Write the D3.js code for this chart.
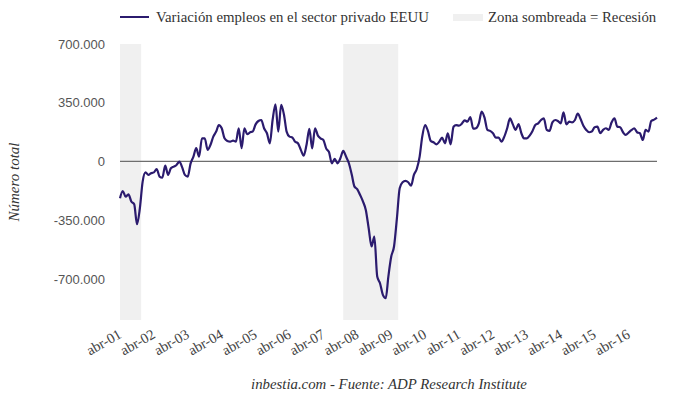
<!DOCTYPE html>
<html>
<head>
<meta charset="utf-8">
<script src="https://cdn.jsdelivr.net/npm/d3@7"></script>
<style>
  body { margin: 0; background: #fff; }
  svg { display: block; }
</style>
</head>
<body>
<svg id="chart" width="680" height="399"></svg>
<script>
// monthly series, thousands of jobs, starting abr-2001
const startMonth = new Date(2001, 3, 1);
const empleos = [
  -219, -176, -210, -196, -239, -255, -374, -279, -120, -65,
  -80, -70, -65, -45, -90, -97, -25, -80, -41, -31,
  -21, -1, -37, -80, -90, -13, 29, 79, 29, 138,
  138, 69, 98, 148, 178, 217, 198, 138, 122, 118,
  124, 118, 198, 79, 198, 162, 174, 178, 221, 241,
  247, 198, 168, 108, 247, 341, 178, 337, 277, 178,
  148, 143, 118, 108, 69, 35, 98, 194, 78, 198,
  154, 138, 128, 78, 55, -11, 15, -11, 19, 63,
  29, -11, -80, -150, -166, -200, -239, -289, -398, -507,
  -448, -686, -726, -795, -815, -686, -567, -507, -339, -160,
  -124, -116, -124, -144, -80, -45, 29, 148, 217, 182,
  122, 114, 102, 118, 142, 108, 168, 102, 207, 217,
  213, 225, 245, 237, 265, 195, 198, 227, 297, 261,
  188, 182, 168, 142, 142, 118, 148, 198, 257, 221,
  188, 223, 168, 138, 138, 154, 182, 217, 227, 247,
  257, 188, 182, 233, 247, 241, 227, 293, 221, 237,
  233, 247, 285, 253, 213, 188, 174, 178, 204, 207,
  168, 188, 198, 188, 233, 257, 207, 204, 174, 158,
  172, 186, 198, 174, 168, 128, 188, 178, 241, 249,
  261
];

// recession periods (start, end)
const recesiones = [
  [new Date(2001, 3, 1), new Date(2001, 10, 15)],
  [new Date(2007, 10, 1), new Date(2009, 5, 15)]
];

const yTicks = [700, 350, 0, -350, -700];
const xTickYears = d3.range(2001, 2017);

const serieLabel = "Variación empleos en el sector privado EEUU";
const zonaLabel = "Zona sombreada = Recesión";
const yTitle = "Número total";
const fuente = "inbestia.com - Fuente: ADP Research Institute";

const data = empleos.map((v, i) => ({ date: d3.timeMonth.offset(startMonth, i), value: v }));

const es = d3.formatLocale({ decimal: ",", thousands: ".", grouping: [3], currency: ["", "€"], minus: "-" });
const esTime = d3.timeFormatLocale({
  dateTime: "%A, %e de %B de %Y, %X", date: "%d/%m/%Y", time: "%H:%M:%S",
  periods: ["AM", "PM"],
  days: ["domingo", "lunes", "martes", "miércoles", "jueves", "viernes", "sábado"],
  shortDays: ["dom", "lun", "mar", "mié", "jue", "vie", "sáb"],
  months: ["enero", "febrero", "marzo", "abril", "mayo", "junio", "julio", "agosto", "septiembre", "octubre", "noviembre", "diciembre"],
  shortMonths: ["ene", "feb", "mar", "abr", "may", "jun", "jul", "ago", "sep", "oct", "nov", "dic"]
});

const svg = d3.select("#chart");
const serif = "'Liberation Serif', 'Times New Roman', serif";
const sans = "'Liberation Sans', Arial, sans-serif";

const plotL = 120, plotR = 657, plotT = 44, plotB = 320;

const x = d3.scaleTime()
  .domain([startMonth, d3.timeMonth.offset(startMonth, empleos.length - 1)])
  .range([plotL, plotR]);

const y = d3.scaleLinear()
  .domain([-945, 700])
  .range([plotB, plotT]);

// recession bands
svg.append("g")
  .selectAll("rect")
  .data(recesiones)
  .join("rect")
  .attr("x", d => x(d[0]))
  .attr("width", d => x(d[1]) - x(d[0]))
  .attr("y", plotT)
  .attr("height", plotB - plotT)
  .attr("fill", "#f0f0f0");

// zero line
svg.append("line")
  .attr("x1", plotL).attr("x2", plotR)
  .attr("y1", y(0)).attr("y2", y(0))
  .attr("stroke", "#6e6e6e")
  .attr("stroke-width", 1.3);

// y axis
const yAxis = svg.append("g")
  .attr("transform", `translate(${plotL - 15},0)`)
  .call(d3.axisLeft(y).tickValues(yTicks).tickSize(0).tickPadding(0)
    .tickFormat(d => es.format(",.0f")(d * 1000)));
yAxis.select(".domain").remove();
yAxis.selectAll("text")
  .attr("font-family", sans)
  .attr("font-size", 13)
  .attr("fill", "#555");

// x axis
const xAxis = svg.append("g")
  .attr("transform", `translate(0,${plotB + 12})`)
  .call(d3.axisBottom(x)
    .tickValues(xTickYears.map(yr => new Date(yr, 3, 1)))
    .tickSize(0)
    .tickFormat(esTime.format("%b-%y")));
xAxis.select(".domain").remove();
xAxis.selectAll("text")
  .attr("font-family", serif)
  .attr("font-size", 14.5)
  .attr("fill", "#444")
  .attr("text-anchor", "end")
  .attr("dy", 0)
  .attr("y", 0)
  .attr("transform", "translate(2,5) rotate(-30)");

// line
svg.append("path")
  .datum(data)
  .attr("fill", "none")
  .attr("stroke", "#2b1b6e")
  .attr("stroke-width", 2.2)
  .attr("stroke-linejoin", "round")
  .attr("d", d3.line().x(d => x(d.date)).y(d => y(d.value)).curve(d3.curveMonotoneX));

// y title
svg.append("text")
  .attr("transform", `translate(19,${(plotT + plotB) / 2}) rotate(-90)`)
  .attr("text-anchor", "middle")
  .attr("font-family", serif)
  .attr("font-style", "italic")
  .attr("font-size", 15)
  .attr("fill", "#333")
  .text(yTitle);

// legend
const legend = svg.append("g").attr("font-family", serif).attr("font-size", 14.8).attr("fill", "#333");
legend.append("line")
  .attr("x1", 120).attr("x2", 149).attr("y1", 17).attr("y2", 17)
  .attr("stroke", "#2b1b6e").attr("stroke-width", 2);
legend.append("text").attr("x", 156).attr("y", 22).text(serieLabel);
legend.append("rect")
  .attr("x", 453).attr("y", 14).attr("width", 30).attr("height", 7)
  .attr("fill", "#f0f0f0");
legend.append("text").attr("x", 488).attr("y", 22).text(zonaLabel);

// source
svg.append("text")
  .attr("x", 389).attr("y", 389)
  .attr("text-anchor", "middle")
  .attr("font-family", serif)
  .attr("font-style", "italic")
  .attr("font-size", 14.8)
  .attr("fill", "#333")
  .text(fuente);
</script>
</body>
</html>
